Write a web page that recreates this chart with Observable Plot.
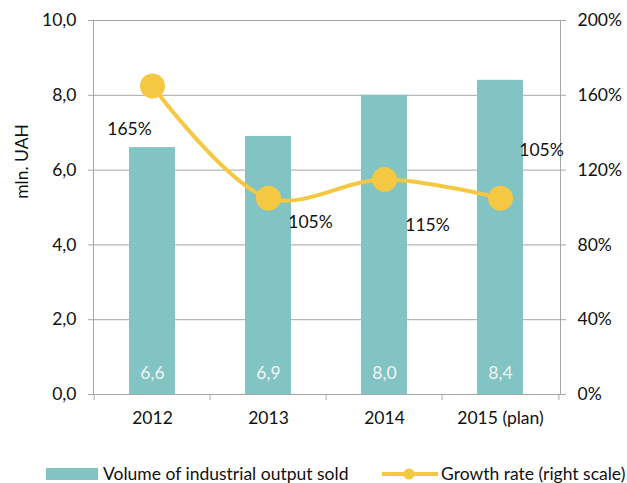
<!DOCTYPE html>
<html>
<head>
<meta charset="utf-8">
<script src="https://cdn.jsdelivr.net/npm/d3@7"></script>
<script src="https://cdn.jsdelivr.net/npm/@observablehq/plot@0.6"></script>
<style>
  html, body { margin: 0; padding: 0; background: #fff; }
  body { width: 627px; height: 483px; position: relative; overflow: hidden; font-family: Lato, "Open Sans", sans-serif; }
  #chart { position: absolute; left: 0; top: 0; }
  .legend { position: absolute; top: 463px; left: 0; width: 627px; height: 20px; font-size: 17.5px; color: #111; }
  .legend .item { position: absolute; display: flex; align-items: center; white-space: nowrap; }
</style>
</head>
<body>
<div id="chart"></div>
<div class="legend">
  <div class="item" style="left:46px;"><svg width="52" height="12" style="margin-right:5px"><rect width="52" height="12" fill="#82c3c3"></rect></svg><span>Volume of industrial output sold</span></div>
  <div class="item" style="left:382px;"><svg width="56" height="14" style="margin-right:3px"><line x1="0" x2="56" y1="7" y2="7" stroke="#f4c842" stroke-width="4"></line><circle cx="27" cy="7" r="5.5" fill="#f4c842"></circle></svg><span>Growth rate (right scale)</span></div>
</div>
<script>
// ---- data ----
const categories = ["2012", "2013", "2014", "2015 (plan)"];
const volume = [6.6, 6.9, 8.0, 8.4];          // mln. UAH (left scale)
const growth = [165, 105, 115, 105];           // % (right scale)
const leftTicks = [0, 2, 4, 6, 8, 10];
const rightTicks = [0, 40, 80, 120, 160, 200];

// ---- table for the library ----
const rows = categories.map((c, i) => ({cat: c, vol: volume[i], g: growth[i], gy: growth[i] / 20}));
const fmt = d => d.toFixed(1).replace(".", ",");

const teal = "#82c3c3", gold = "#f4c842", grid = "#a6a6a6", ink = "#111";
const FS = 17.5;
const labelOffsets = [[-23, 43], [42, 24], [43, 46], [41, -48]];

const plot = Plot.plot({
  width: 627,
  height: 440,
  marginLeft: 93,
  marginRight: 67,
  marginTop: 20,
  marginBottom: 46,
  style: {fontFamily: "Lato, 'Open Sans', sans-serif", fontSize: FS + "px", color: ink, background: "#fff"},
  x: {domain: categories, paddingInner: 0.6, paddingOuter: 0.3},
  y: {domain: [0, 10]},
  marks: [
    Plot.gridY(leftTicks, {stroke: grid, strokeOpacity: 1}),
    Plot.barY(rows, {x: "cat", y: "vol", fill: teal}),
    Plot.frame({stroke: grid}),
    // x tick marks at band boundaries
    Plot.ruleX(rows, {x: "cat", y1: 0, y2: 0, insetBottom: -6, dx: -58.4, stroke: grid}),
    Plot.ruleX(rows.slice(-1), {x: "cat", y1: 0, y2: 0, insetBottom: -6, dx: 58.4, stroke: grid}),
    Plot.axisX({tickSize: 0, tickPadding: 17, label: null, fill: ink, fontSize: FS}),
    Plot.axisY(leftTicks, {anchor: "left", tickSize: 5, tickPadding: 12, tickFormat: fmt, stroke: grid, label: null, fill: ink, fontSize: FS}),
    Plot.axisY(leftTicks, {anchor: "right", tickSize: 5, tickPadding: 12, tickFormat: (d, i) => rightTicks[i] + "%", stroke: grid, label: null, fill: ink, textAnchor: "start", fontSize: FS}),
    Plot.text(["mln. UAH"], {frameAnchor: "left", textAnchor: "middle", rotate: -90, dx: -71, dy: -46, fill: ink, fontSize: FS}),
    // bar value labels
    Plot.text(rows, {x: "cat", y: 0, text: d => fmt(d.vol), dy: -21, fill: "#f4f4f4", fontSize: FS}),
    // growth line
    Plot.line(rows, {x: "cat", y: "gy", curve: "catmull-rom", stroke: gold, strokeWidth: 4}),
    Plot.dot(rows, {x: "cat", y: "gy", r: 12.5, fill: gold}),
    ...rows.map((r, i) => Plot.text([r], {x: "cat", y: "gy", text: d => d.g + "%", dx: labelOffsets[i][0], dy: labelOffsets[i][1], fill: ink, fontSize: FS}))
  ]
});
document.getElementById("chart").appendChild(plot);
</script>
</body>
</html>
